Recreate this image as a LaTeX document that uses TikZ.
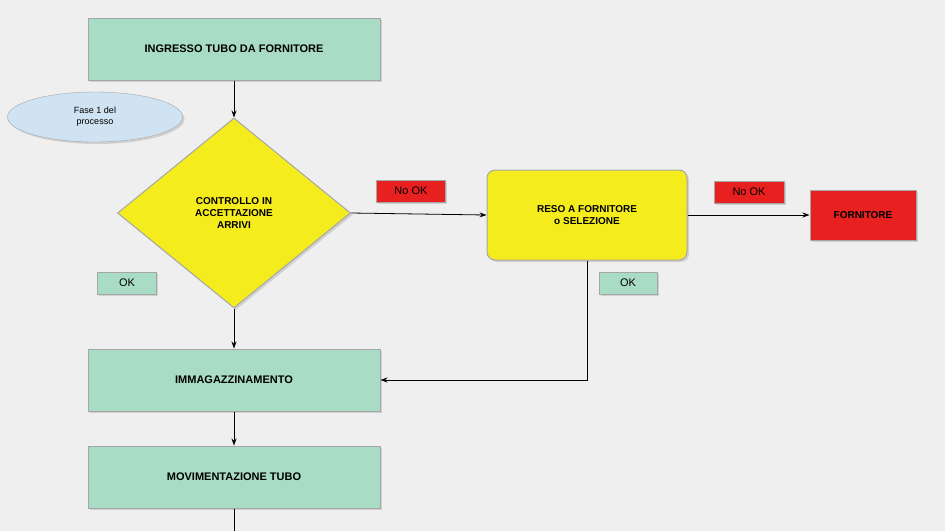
\documentclass[tikz,border=0pt]{standalone}
\usepackage{fontspec}
\setmainfont{Liberation Sans}
\usetikzlibrary{shapes.geometric,shadows,arrows.meta}
\definecolor{bg}{HTML}{EFEFEF}
\definecolor{gbox}{HTML}{A9DCC4}
\definecolor{ybox}{HTML}{F5EC1E}
\definecolor{rbox}{HTML}{E8201F}
\definecolor{lblue}{HTML}{CFE3F3}
\tikzset{
  every node/.style={font=\bfseries\fontsize{11}{13}\selectfont, align=center},
  gbx/.style={draw=gray!70, fill=gbox, line width=1pt, minimum width=292pt, minimum height=62pt, drop shadow={shadow xshift=2pt,shadow yshift=-2pt,fill=gray!60}},
  tag/.style={draw=gray!70, line width=0.8pt, font=\fontsize{11}{13}\selectfont, inner sep=1pt, drop shadow={shadow xshift=1.5pt,shadow yshift=-1.5pt,fill=gray!60}},
  conn/.style={-{Stealth[length=7pt,width=5pt]}, line width=0.8pt}
}
\begin{document}
\begin{tikzpicture}[x=1pt,y=-1pt]
\fill[bg] (0,0) rectangle (945,531);
\useasboundingbox (0,0) rectangle (945,531);
\node[gbx] (ing) at (234,49) {INGRESSO TUBO DA FORNITORE};
\node[ellipse, draw=gray!70, fill=lblue, minimum width=175pt, minimum height=50pt, font=\fontsize{9}{11}\selectfont, drop shadow={shadow xshift=2pt,shadow yshift=-2pt,fill=gray!60}] (fase) at (95,117) {Fase 1 del\\processo};
\node[diamond, draw=gray!70, fill=ybox, line width=1pt, minimum width=233pt, minimum height=190pt, aspect=1.22, inner sep=0pt, font=\bfseries\fontsize{10}{12}\selectfont, drop shadow={shadow xshift=2pt,shadow yshift=-2pt,fill=gray!60}] (dia) at (234,213) {CONTROLLO IN\\ACCETTAZIONE\\ARRIVI};
\node[draw=gray!70, fill=ybox, rounded corners=8pt, line width=1pt, minimum width=200pt, minimum height=90pt, font=\bfseries\fontsize{10}{12}\selectfont, drop shadow={shadow xshift=2pt,shadow yshift=-2pt,fill=gray!60}] (reso) at (587,215) {RESO A FORNITORE\\o SELEZIONE};
\node[draw=gray!70, fill=rbox, line width=1pt, minimum width=106pt, minimum height=50pt, font=\bfseries\fontsize{10}{12}\selectfont, drop shadow={shadow xshift=2pt,shadow yshift=-2pt,fill=gray!60}] (forn) at (863,215) {FORNITORE};
\node[tag, fill=rbox, minimum width=69pt, minimum height=22pt] (nok1) at (411,191) {No OK};
\node[tag, fill=rbox, minimum width=70pt, minimum height=22pt] (nok2) at (749,192) {No OK};
\node[tag, fill=gbox, minimum width=59pt, minimum height=22pt] (ok1) at (127,283) {OK};
\node[tag, fill=gbox, minimum width=58pt, minimum height=22pt] (ok2) at (628,283) {OK};
\node[gbx] (imm) at (234,380) {IMMAGAZZINAMENTO};
\node[gbx] (mov) at (234,477) {MOVIMENTAZIONE TUBO};
\coordinate (end) at (234,531);
\draw[conn] (ing) -- (dia);
\draw[conn] (dia.east) -- (reso.west);
\draw[conn] (reso.east) -- (forn.west);
\draw[conn] (dia.south) -- (imm.north);
\draw[conn] (reso.south) |- (imm.east);
\draw[conn] (imm) -- (mov);
\draw[line width=0.8pt] (mov.south) -- (end);
\end{tikzpicture}
\end{document}
